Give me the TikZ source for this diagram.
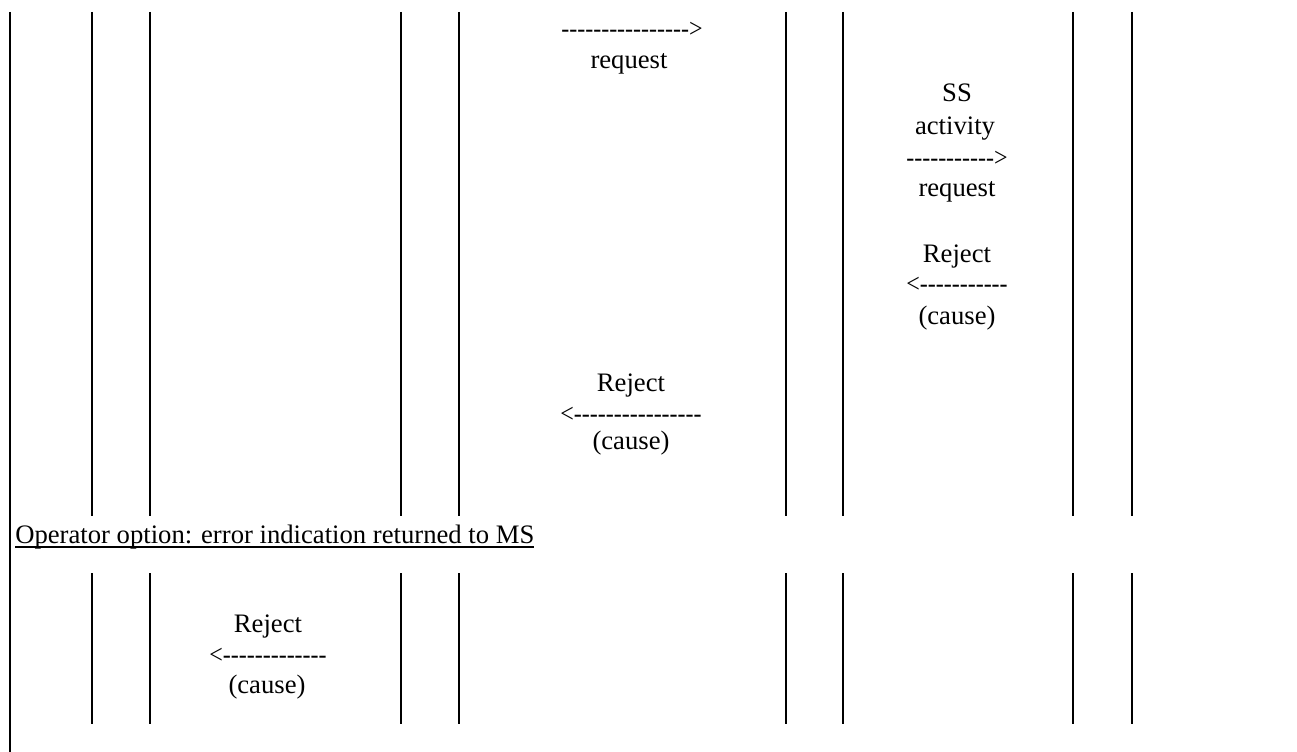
\documentclass[tikz,border=0pt]{standalone}
\usepackage{fontspec}
\setmainfont{Liberation Serif}
\usepackage{graphicx}
\newcommand\dashes[1]{\foreach \i in {1,...,#1}{-\kern0pt}}
\newcommand\rarr[1]{\scalebox{0.9}[1]{\dashes{#1}>}}
\newcommand\larr[1]{\scalebox{0.9}[1]{<\dashes{#1}}}
\newcommand\myul[1]{\leavevmode\setbox0\hbox{#1}\rlap{\rule[-3.6pt]{\wd0}{1.1pt}}\box0}
\begin{document}
\begin{tikzpicture}[x=0.75pt,y=-0.75pt,
  lbl/.style={inner sep=0pt, anchor=base, font=\fontsize{20}{24}\selectfont},
  life/.style={line width=1.1pt},
  frame/.style={line width=1.9pt}]
\useasboundingbox (0,0) rectangle (1297,752);
\draw[frame] (10,12) -- (10,752);
\foreach \x in {92,150,401,459,786,843,1073,1132}{
  \draw[life] (\x,12) -- (\x,516);
  \draw[life] (\x,573) -- (\x,724);
}
\node[lbl] (rq1arrow) at (632,38) {\rarr{16}};
\node[lbl] (rq1) at (629,69) {request};
\node[lbl] (ss) at (957,102) {SS};
\node[lbl] (act) at (955,135) {activity};
\node[lbl] (rq2arrow) at (957,167) {\rarr{11}};
\node[lbl] (rq2) at (957,197) {request};
\node[lbl] (rj1) at (957,263) {Reject};
\node[lbl] (rj1arrow) at (957,293) {\larr{11}};
\node[lbl] (c1) at (957,325) {(cause)};
\node[lbl] (rj2) at (631,392) {Reject};
\node[lbl] (rj2arrow) at (631,423) {\larr{16}};
\node[lbl] (c2) at (631,450) {(cause)};
\node[lbl, anchor=base west] (op) at (15,543) {\myul{Operator option: error indication returned to MS}};
\node[lbl] (rj3) at (268,632) {Reject};
\node[lbl] (rj3arrow) at (268,663) {\larr{13}};
\node[lbl] (c3) at (267,693) {(cause)};
\end{tikzpicture}
\end{document}
